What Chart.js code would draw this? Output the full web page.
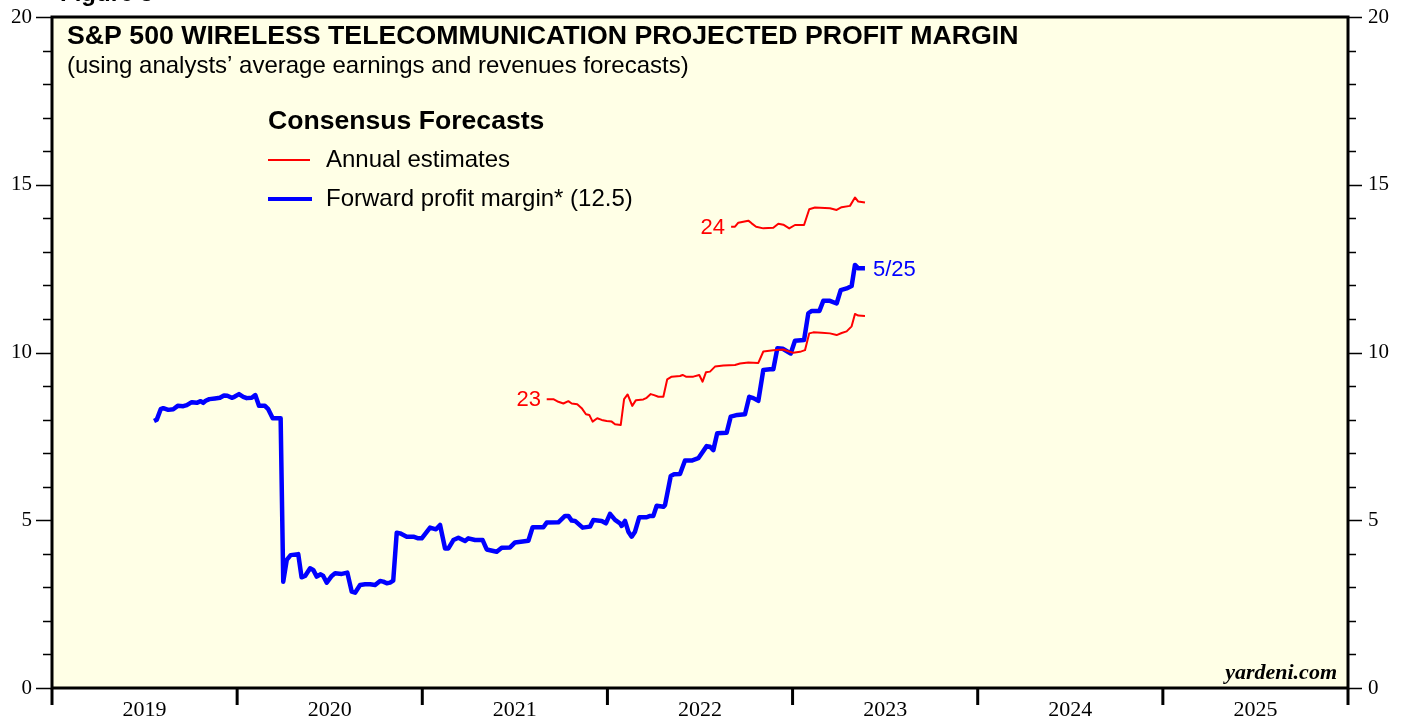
<!DOCTYPE html>
<html>
<head>
<meta charset="utf-8">
<script src="https://cdn.jsdelivr.net/npm/chart.js@4"></script>
<style>
  body { margin: 0; background: #fff; }
  #wrap { width: 1407px; height: 719px; }
</style>
</head>
<body>
<div id="wrap"><canvas id="chart_canvas"></canvas></div>
<script>
// forward profit margin (weekly, dates as decimal years)
var fwdYears = [2019.551, 2019.566, 2019.587, 2019.601, 2019.628, 2019.655, 2019.679, 2019.709, 2019.728, 2019.755,
    2019.782, 2019.803, 2019.817, 2019.830, 2019.850, 2019.880, 2019.907, 2019.929, 2019.947, 2019.971,
    2019.985, 2020.010, 2020.033, 2020.052, 2020.079, 2020.098, 2020.118, 2020.150, 2020.168, 2020.192,
    2020.232, 2020.235, 2020.249, 2020.268, 2020.289, 2020.330, 2020.348, 2020.367, 2020.394, 2020.411,
    2020.430, 2020.451, 2020.465, 2020.484, 2020.511, 2020.529, 2020.565, 2020.595, 2020.619, 2020.637,
    2020.664, 2020.691, 2020.718, 2020.745, 2020.772, 2020.789, 2020.808, 2020.826, 2020.843, 2020.862,
    2020.880, 2020.916, 2020.952, 2020.978, 2020.997, 2021.042, 2021.074, 2021.096, 2021.123, 2021.141,
    2021.168, 2021.195, 2021.231, 2021.249, 2021.285, 2021.326, 2021.348, 2021.402, 2021.429, 2021.474,
    2021.501, 2021.573, 2021.596, 2021.654, 2021.672, 2021.735, 2021.771, 2021.789, 2021.807, 2021.825,
    2021.866, 2021.906, 2021.924, 2021.969, 2021.992, 2022.014, 2022.041, 2022.068, 2022.077, 2022.095,
    2022.113, 2022.131, 2022.149, 2022.172, 2022.212, 2022.230, 2022.248, 2022.266, 2022.302, 2022.311,
    2022.342, 2022.360, 2022.392, 2022.419, 2022.455, 2022.491, 2022.536, 2022.554, 2022.572, 2022.593,
    2022.644, 2022.666, 2022.702, 2022.743, 2022.766, 2022.788, 2022.815, 2022.842, 2022.878, 2022.896,
    2022.918, 2022.947, 2022.990, 2023.013, 2023.062, 2023.085, 2023.104, 2023.145, 2023.166, 2023.202,
    2023.238, 2023.260, 2023.292, 2023.319, 2023.337, 2023.355, 2023.391];
var fwdMargin = [7.96, 8.00, 8.31, 8.34, 8.29, 8.31, 8.41, 8.40, 8.43, 8.52,
    8.50, 8.55, 8.50, 8.56, 8.61, 8.63, 8.65, 8.72, 8.71, 8.65,
    8.68, 8.76, 8.68, 8.64, 8.65, 8.73, 8.41, 8.41, 8.31, 8.04,
    8.04, 8.02, 3.17, 3.82, 3.96, 3.99, 3.30, 3.34, 3.57, 3.52,
    3.32, 3.39, 3.34, 3.14, 3.34, 3.42, 3.40, 3.44, 2.87, 2.84,
    3.07, 3.09, 3.09, 3.07, 3.19, 3.17, 3.12, 3.14, 3.20, 4.63,
    4.61, 4.51, 4.51, 4.46, 4.46, 4.78, 4.73, 4.86, 4.16, 4.16,
    4.41, 4.48, 4.38, 4.46, 4.41, 4.41, 4.13, 4.06, 4.18, 4.19,
    4.34, 4.39, 4.79, 4.79, 4.93, 4.94, 5.13, 5.13, 4.99, 4.98,
    4.78, 4.81, 5.01, 4.98, 4.91, 5.19, 5.01, 4.91, 4.83, 4.98,
    4.66, 4.51, 4.66, 5.09, 5.09, 5.13, 5.13, 5.43, 5.40, 5.45,
    6.32, 6.37, 6.38, 6.78, 6.78, 6.85, 7.21, 7.19, 7.09, 7.59,
    7.61, 8.09, 8.14, 8.16, 8.68, 8.64, 8.56, 9.48, 9.50, 9.50,
    10.13, 10.11, 9.97, 10.35, 10.37, 11.17, 11.24, 11.24, 11.54, 11.54,
    11.46, 11.86, 11.91, 11.98, 12.61, 12.51, 12.51];

// annual estimates for 2023
var est23Years = [2021.672, 2021.708, 2021.735, 2021.762, 2021.789, 2021.807, 2021.837, 2021.861, 2021.884, 2021.902,
    2021.920, 2021.945, 2021.969, 2021.996, 2022.023, 2022.041, 2022.072, 2022.090, 2022.109, 2022.134,
    2022.154, 2022.194, 2022.212, 2022.234, 2022.252, 2022.275, 2022.302, 2022.323, 2022.347, 2022.392,
    2022.406, 2022.424, 2022.464, 2022.496, 2022.514, 2022.532, 2022.554, 2022.581, 2022.626, 2022.689,
    2022.716, 2022.761, 2022.815, 2022.842, 2022.896, 2022.950, 2022.986, 2023.004, 2023.040, 2023.067,
    2023.090, 2023.112, 2023.157, 2023.202, 2023.238, 2023.265, 2023.292, 2023.319, 2023.337, 2023.355,
    2023.391];
var est23Margin = [8.61, 8.61, 8.53, 8.48, 8.55, 8.48, 8.46, 8.34, 8.16, 8.14,
    7.94, 8.04, 7.99, 7.96, 7.94, 7.86, 7.84, 8.61, 8.75, 8.41,
    8.58, 8.60, 8.65, 8.76, 8.73, 8.68, 8.68, 9.20, 9.28, 9.30,
    9.33, 9.28, 9.28, 9.33, 9.13, 9.41, 9.43, 9.58, 9.61, 9.63,
    9.67, 9.70, 9.69, 10.03, 10.07, 10.09, 10.02, 9.99, 10.02, 10.07,
    10.57, 10.60, 10.59, 10.57, 10.52, 10.58, 10.63, 10.78, 11.15, 11.10,
    11.09];

// annual estimates for 2024
var est24Years = [2022.668, 2022.689, 2022.707, 2022.734, 2022.761, 2022.779, 2022.803, 2022.842, 2022.896, 2022.923,
    2022.950, 2022.982, 2023.013, 2023.062, 2023.090, 2023.121, 2023.202, 2023.238, 2023.265, 2023.310,
    2023.337, 2023.355, 2023.391];
var est24Margin = [13.75, 13.75, 13.87, 13.90, 13.93, 13.85, 13.75, 13.70, 13.72, 13.84,
    13.81, 13.70, 13.80, 13.80, 14.27, 14.32, 14.30, 14.25, 14.33, 14.37,
    14.62, 14.50, 14.47];

var yearLabels = [2019, 2020, 2021, 2022, 2023, 2024, 2025];
var yLabelTicks = [0, 5, 10, 15, 20];

function pts(xs, ys) {
    return xs.map(function (x, i) { return { x: x, y: ys[i] }; });
}

var serif = '"Liberation Serif", "Times New Roman", serif';
var sans = '"Liberation Sans", Arial, sans-serif';

var decor = {
    id: 'decor',
    beforeDraw: function (chart) {
        var ctx = chart.ctx, a = chart.chartArea;
        ctx.save();
        ctx.fillStyle = '#ffffe6';
        ctx.fillRect(a.left, a.top, a.right - a.left, a.bottom - a.top);
        ctx.restore();
    },
    afterDraw: function (chart) {
        var ctx = chart.ctx, a = chart.chartArea;
        var ys = chart.scales.y, xs = chart.scales.x;
        ctx.save();
        ctx.strokeStyle = '#000';

        // y tick marks both sides
        ctx.lineWidth = 1.5;
        for (var v = 0; v <= 20; v++) {
            var py = Math.round(ys.getPixelForValue(v)) + 0.5;
            var major = v % 5 === 0;
            ctx.beginPath();
            ctx.moveTo(a.left - (major ? 16 : 9), py);
            ctx.lineTo(a.left, py);
            ctx.moveTo(a.right, py);
            ctx.lineTo(a.right + (major ? 14 : 8), py);
            ctx.stroke();
        }
        // year boundary ticks
        ctx.lineWidth = 3;
        for (var yr = 2019; yr <= 2026; yr++) {
            var px = xs.getPixelForValue(yr);
            ctx.beginPath();
            ctx.moveTo(px, a.bottom);
            ctx.lineTo(px, a.bottom + 17);
            ctx.stroke();
        }
        // frame
        ctx.lineWidth = 3;
        ctx.strokeRect(a.left, a.top, a.right - a.left, a.bottom - a.top);

        // texts
        ctx.textBaseline = 'middle';
        ctx.textAlign = 'left';
        ctx.fillStyle = '#000';
        ctx.font = 'bold 24px ' + sans;
        ctx.fillText('Figure 5', 60, -6);
        ctx.font = 'bold 26.7px ' + sans;
        ctx.fillText('S&P 500 WIRELESS TELECOMMUNICATION PROJECTED PROFIT MARGIN', 67, 37);
        ctx.font = '24px ' + sans;
        ctx.fillText('(using analysts\u2019 average earnings and revenues forecasts)', 67, 66);
        ctx.font = 'bold 26.6px ' + sans;
        ctx.fillText('Consensus Forecasts', 268, 122);
        ctx.font = '24px ' + sans;
        ctx.fillText('Annual estimates', 326, 160);
        ctx.fillText('Forward profit margin* (12.5)', 326, 199);

        ctx.strokeStyle = '#ff0000';
        ctx.lineWidth = 2;
        ctx.beginPath(); ctx.moveTo(268, 160); ctx.lineTo(310, 160); ctx.stroke();
        ctx.strokeStyle = '#0000ff';
        ctx.lineWidth = 4;
        ctx.beginPath(); ctx.moveTo(268, 199); ctx.lineTo(312, 199); ctx.stroke();

        ctx.font = '22px ' + sans;
        ctx.fillStyle = '#ff0000';
        ctx.textAlign = 'right';
        ctx.fillText('23', 541, 400);
        ctx.fillText('24', 725, 228);
        ctx.fillStyle = '#0000ff';
        ctx.textAlign = 'left';
        ctx.fillText('5/25', 873, 270);

        ctx.fillStyle = '#000';
        ctx.textAlign = 'right';
        ctx.font = 'italic bold 22px ' + serif;
        ctx.fillText('yardeni.com', 1337, 673);
        ctx.restore();
    }
};

var ctx = document.getElementById('chart_canvas').getContext('2d');

var chart = new Chart(ctx, {
    type: 'line',
    data: {
        datasets: [
            {
                label: 'Annual estimates 2023',
                data: pts(est23Years, est23Margin),
                borderColor: '#ff0000',
                borderWidth: 2
            },
            {
                label: 'Annual estimates 2024',
                data: pts(est24Years, est24Margin),
                borderColor: '#ff0000',
                borderWidth: 2
            },
            {
                label: 'Forward profit margin',
                data: pts(fwdYears, fwdMargin),
                borderColor: '#0000ff',
                borderWidth: 4.5
            }
        ]
    },
    options: {
        responsive: true,
        maintainAspectRatio: false,
        animation: false,
        parsing: false,
        layout: { padding: { top: 17, left: 0, right: 0, bottom: 0 } },
        elements: {
            point: { radius: 0 },
            line: { tension: 0, borderJoinStyle: 'round', borderCapStyle: 'butt' }
        },
        plugins: {
            legend: { display: false },
            tooltip: { enabled: false }
        },
        scales: {
            x: {
                type: 'linear',
                position: 'bottom',
                min: 2019,
                max: 2026,
                grid: { display: false, drawTicks: false },
                border: { display: false },
                afterBuildTicks: function (s) {
                    s.ticks = yearLabels.map(function (y) { return { value: y + 0.5 }; });
                },
                afterFit: function (s) { s.height = 31; },
                ticks: {
                    autoSkip: false,
                    maxRotation: 0,
                    padding: 9,
                    color: '#000',
                    font: { family: serif, size: 22 },
                    callback: function (v) { return String(Math.floor(v)); }
                }
            },
            y: {
                position: 'left',
                min: 0,
                max: 20,
                grid: { display: false, drawTicks: true, tickLength: 20 },
                border: { display: false },
                afterBuildTicks: function (s) {
                    s.ticks = yLabelTicks.map(function (v) { return { value: v }; });
                },
                afterFit: function (s) { s.width = 52; },
                ticks: {
                    padding: 0,
                    color: '#000',
                    font: { family: serif, size: 21 }
                }
            },
            y2: {
                position: 'right',
                min: 0,
                max: 20,
                grid: { display: false, drawTicks: true, tickLength: 20 },
                border: { display: false },
                afterBuildTicks: function (s) {
                    s.ticks = yLabelTicks.map(function (v) { return { value: v }; });
                },
                afterFit: function (s) { s.width = 59; },
                ticks: {
                    padding: 0,
                    color: '#000',
                    font: { family: serif, size: 21 }
                }
            }
        }
    },
    plugins: [decor]
});
</script>
</body>
</html>
